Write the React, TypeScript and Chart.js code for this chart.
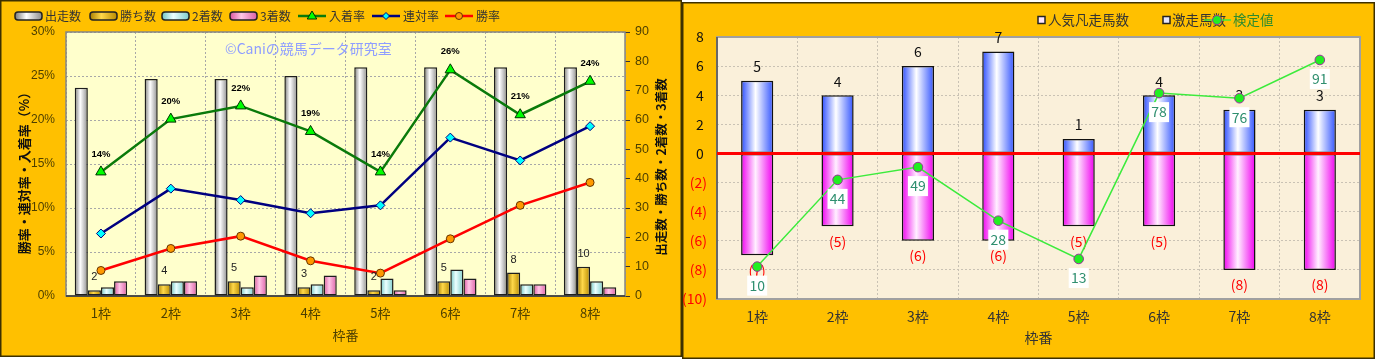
import React, { useEffect, useRef } from 'react';
import { Chart, registerables } from 'chart.js';

Chart.register(...registerables);

const JP = '"Noto Sans CJK JP", "Noto Sans", sans-serif';
const LS = '"Liberation Sans", Arial, sans-serif';
const ORANGE = '#FFC000';
const PANEL_BORDER = '#3D3000';
const AXIS_TEXT = '#4D3F00';

// ---------- left chart data ----------
const categories = ['1枠', '2枠', '3枠', '4枠', '5枠', '6枠', '7枠', '8枠'];
const starters = [71, 74, 74, 75, 78, 78, 78, 78];
const wins = [2, 4, 5, 3, 2, 5, 8, 10];
const seconds = [3, 5, 3, 4, 6, 9, 4, 5];
const thirds = [5, 5, 7, 7, 2, 6, 4, 3];
const placeRate = [14.1, 20.1, 21.6, 18.7, 14.1, 25.7, 20.6, 24.4];
const quinellaRate = [7.1, 12.2, 10.9, 9.4, 10.3, 18.0, 15.4, 19.3];
const winRate = [2.9, 5.4, 6.8, 4.0, 2.6, 6.5, 10.3, 12.9];
const rateAxis = { min: 0, max: 30, step: 5 };
const countAxis = { min: 0, max: 90, step: 10 };

// ---------- right chart data ----------
const favoriteFlops = [5, 4, 6, 7, 1, 4, 3, 3];
const longshotRuns = [-7, -5, -6, -6, -5, -5, -8, -8];
const testValues = [10, 44, 49, 28, 13, 78, 76, 91];
const diffAxis = { min: -10, max: 8, step: 2 };
const testAxis = { min: -2.7, max: 100 };

type Stops = [number, string][];
const starterStops: Stops = [[0, '#777777'], [0.42, '#ffffff'], [1, '#8c8c8c']];
const winStops: Stops = [[0, '#A87E00'], [0.42, '#FFD84A'], [1, '#B88A00']];
const secondStops: Stops = [[0, '#6FC4C4'], [0.42, '#ECFFFF'], [1, '#7CCCCC']];
const thirdStops: Stops = [[0, '#D9559F'], [0.42, '#FFC6E6'], [1, '#DD5FA6']];
const flopStops: Stops = [[0, '#2A4DFF'], [0.45, '#FFFFFF'], [1, '#3355FF']];
const runStops: Stops = [[0, '#F000F0'], [0.45, '#FFF0FF'], [1, '#F000F0']];

function hGrad(ctx: CanvasRenderingContext2D, x0: number, x1: number, stops: Stops) {
  const g = ctx.createLinearGradient(x0, 0, x1, 0);
  stops.forEach(([o, c]) => g.addColorStop(o, c));
  return g;
}

const barGradientPlugin = {
  id: 'barGradient',
  beforeDatasetsDraw(chart: any) {
    const ctx = chart.ctx;
    chart.data.datasets.forEach((ds: any, i: number) => {
      const stops = ds.gradientStops;
      if (!stops) return;
      const meta = chart.getDatasetMeta(i);
      meta.data.forEach((el: any) => {
        const p = el.getProps(['x', 'width'], true);
        if (!isFinite(p.x) || !isFinite(p.width)) return;
        el.options = Object.assign({}, el.options, {
          backgroundColor: hGrad(ctx, p.x - p.width / 2, p.x + p.width / 2, stops),
        });
      });
    });
  },
};

function roundRect(ctx: CanvasRenderingContext2D, x: number, y: number, w: number, h: number, r: number) {
  ctx.beginPath();
  ctx.moveTo(x + r, y);
  ctx.lineTo(x + w - r, y);
  ctx.arcTo(x + w, y, x + w, y + r, r);
  ctx.lineTo(x + w, y + h - r);
  ctx.arcTo(x + w, y + h, x + w - r, y + h, r);
  ctx.lineTo(x + r, y + h);
  ctx.arcTo(x, y + h, x, y + h - r, r);
  ctx.lineTo(x, y + r);
  ctx.arcTo(x, y, x + r, y, r);
  ctx.closePath();
}

function drawMarker(ctx: CanvasRenderingContext2D, style: string, x: number, y: number, r: number, fill: string, stroke: string) {
  ctx.save();
  ctx.fillStyle = fill;
  ctx.strokeStyle = stroke;
  ctx.lineWidth = 1;
  ctx.beginPath();
  if (style === 'triangle') {
    ctx.moveTo(x, y - r);
    ctx.lineTo(x + r * 0.95, y + r * 0.6);
    ctx.lineTo(x - r * 0.95, y + r * 0.6);
    ctx.closePath();
  } else if (style === 'rectRot') {
    ctx.moveTo(x, y - r);
    ctx.lineTo(x + r, y);
    ctx.lineTo(x, y + r);
    ctx.lineTo(x - r, y);
    ctx.closePath();
  } else {
    ctx.arc(x, y, r, 0, Math.PI * 2);
  }
  ctx.fill();
  ctx.stroke();
  ctx.restore();
}

// ---------- left chart ----------
const leftLegend = [
  { kind: 'box', label: '出走数', x: 15, stops: starterStops },
  { kind: 'box', label: '勝ち数', x: 90, stops: winStops },
  { kind: 'box', label: '2着数', x: 162, stops: secondStops },
  { kind: 'box', label: '3着数', x: 230, stops: thirdStops },
  { kind: 'line', label: '入着率', x: 298, color: '#0A7A0A', marker: 'triangle', fill: '#00FF00', stroke: '#003300', r: 5 },
  { kind: 'line', label: '連対率', x: 372, color: '#000080', marker: 'rectRot', fill: '#00FFFF', stroke: '#000080', r: 3.5 },
  { kind: 'line', label: '勝率', x: 445, color: '#FF0000', marker: 'circle', fill: '#FF9900', stroke: '#663300', r: 3.5 },
];

const leftDecor = {
  id: 'leftDecor',
  beforeDraw(chart: any) {
    const { ctx, chartArea: a } = chart;
    ctx.save();
    ctx.fillStyle = ORANGE;
    ctx.fillRect(0, 0, 682, 357);
    ctx.strokeStyle = PANEL_BORDER;
    ctx.lineWidth = 1.5;
    ctx.strokeRect(0.75, 0.75, 680.5, 355.5);
    ctx.fillStyle = '#FFFFCC';
    ctx.fillRect(a.left, a.top, a.right - a.left, a.bottom - a.top);
    ctx.restore();
  },
  beforeDatasetsDraw(chart: any) {
    const { ctx, chartArea: a } = chart;
    ctx.save();
    ctx.strokeStyle = '#858585';
    ctx.lineWidth = 1.5;
    ctx.strokeRect(a.left, a.top, a.right - a.left, a.bottom - a.top);
    ctx.strokeStyle = '#333';
    ctx.beginPath();
    ctx.moveTo(a.left, a.bottom);
    ctx.lineTo(a.right, a.bottom);
    ctx.stroke();
    ctx.fillStyle = '#8F9EFF';
    ctx.font = `14px ${JP}`;
    ctx.textAlign = 'left';
    ctx.textBaseline = 'middle';
    ctx.fillText('©Caniの競馬データ研究室', 225, 49);
    ctx.restore();
  },
  afterDatasetsDraw(chart: any) {
    const ctx = chart.ctx;
    ctx.save();
    ctx.textAlign = 'center';
    ctx.textBaseline = 'middle';
    // 勝ち数 labels
    const winMeta = chart.getDatasetMeta(1);
    ctx.font = `11px ${LS}`;
    ctx.fillStyle = '#222';
    winMeta.data.forEach((el: any, i: number) => {
      ctx.fillText(String(wins[i]), el.x, el.y - 13);
    });
    // 入着率 labels
    const placeMeta = chart.getDatasetMeta(4);
    ctx.font = `bold 9.5px ${LS}`;
    ctx.fillStyle = '#000';
    placeMeta.data.forEach((el: any, i: number) => {
      ctx.fillText(Math.round(placeRate[i]) + '%', el.x, el.y - 18);
    });
    ctx.restore();
  },
  afterDraw(chart: any) {
    const { ctx, chartArea: a } = chart;
    ctx.save();
    // legend
    ctx.font = `12px ${JP}`;
    ctx.textBaseline = 'middle';
    ctx.textAlign = 'left';
    const ly = 16;
    leftLegend.forEach((it: any) => {
      if (it.kind === 'box') {
        roundRect(ctx, it.x, ly - 4, 27, 8, 3);
        ctx.fillStyle = hGrad(ctx, it.x, it.x + 27, it.stops);
        ctx.fill();
        ctx.strokeStyle = '#222';
        ctx.lineWidth = 1.5;
        ctx.stroke();
        ctx.fillStyle = '#333';
        ctx.fillText(it.label, it.x + 30, ly);
      } else {
        ctx.strokeStyle = it.color;
        ctx.lineWidth = 2.5;
        ctx.beginPath();
        ctx.moveTo(it.x, ly);
        ctx.lineTo(it.x + 28, ly);
        ctx.stroke();
        drawMarker(ctx, it.marker, it.x + 14, ly, it.r, it.fill, it.stroke);
        ctx.fillStyle = '#333';
        ctx.fillText(it.label, it.x + 31, ly);
      }
    });
    // axis titles
    ctx.fillStyle = '#111';
    ctx.font = `bold 13px ${JP}`;
    ctx.textAlign = 'center';
    ctx.save();
    ctx.translate(24, 170);
    ctx.rotate(-Math.PI / 2);
    ctx.fillText('勝率・連対率・入着率（%）', 0, 0);
    ctx.restore();
    ctx.save();
    ctx.font = `bold 12.5px ${JP}`;
    ctx.translate(661, 167);
    ctx.rotate(-Math.PI / 2);
    ctx.fillText('出走数・勝ち数・2着数・3着数', 0, 0);
    ctx.restore();
    ctx.font = `13px ${JP}`;
    ctx.fillStyle = AXIS_TEXT;
    ctx.fillText('枠番', (a.left + a.right) / 2, 335);
    ctx.restore();
  },
};

function barSet(label: string, data: number[], stops: Stops) {
  return {
    type: 'bar',
    label,
    data,
    yAxisID: 'y1',
    gradientStops: stops,
    backgroundColor: () => stops[1][1],
    borderColor: '#1E1E1E',
    borderWidth: 1.5,
    borderSkipped: false,
    categoryPercentage: 0.75,
    barPercentage: 1.0,
    order: 2,
  };
}

function leftConfig(): any {
  return {
    type: 'bar',
    data: {
      labels: categories,
      datasets: [
        barSet('出走数', starters, starterStops),
        barSet('勝ち数', wins, winStops),
        barSet('2着数', seconds, secondStops),
        barSet('3着数', thirds, thirdStops),
        {
          type: 'line', label: '入着率', data: placeRate, yAxisID: 'y', order: 1,
          borderColor: '#0A7A0A', borderWidth: 2.5, pointStyle: 'triangle', pointRadius: 6,
          pointBackgroundColor: '#00FF00', pointBorderColor: '#003300', pointBorderWidth: 1,
        },
        {
          type: 'line', label: '連対率', data: quinellaRate, yAxisID: 'y', order: 1,
          borderColor: '#000080', borderWidth: 2.5, pointStyle: 'rectRot', pointRadius: 4.5,
          pointBackgroundColor: '#00FFFF', pointBorderColor: '#000080', pointBorderWidth: 1,
        },
        {
          type: 'line', label: '勝率', data: winRate, yAxisID: 'y', order: 1,
          borderColor: '#FF0000', borderWidth: 2.5, pointStyle: 'circle', pointRadius: 4,
          pointBackgroundColor: '#FF9900', pointBorderColor: '#663300', pointBorderWidth: 1,
        },
      ],
    },
    options: {
      responsive: false,
      animation: false,
      devicePixelRatio: 1,
      events: [],
      layout: { padding: { top: 32, left: 0, right: 0, bottom: 0 } },
      plugins: { legend: { display: false }, tooltip: { enabled: false }, title: { display: false } },
      scales: {
        x: {
          offset: true,
          grid: { offset: true, color: '#A8A8A8', lineWidth: 1, drawTicks: false },
          border: { display: false, dash: [2, 2] },
          ticks: { color: AXIS_TEXT, font: { family: JP, size: 13 }, padding: 9 },
          afterFit: (s: any) => { s.height = 64; },
        },
        y: {
          position: 'left',
          min: rateAxis.min, max: rateAxis.max,
          grid: { color: '#A8A8A8', lineWidth: 1, drawTicks: false },
          border: { display: false, dash: [2, 2] },
          ticks: {
            stepSize: rateAxis.step, color: AXIS_TEXT, padding: 11,
            font: { family: LS, size: 12 }, callback: (v: any) => v + '%',
          },
          afterFit: (s: any) => { s.width = 66; },
        },
        y1: {
          position: 'right',
          min: countAxis.min, max: countAxis.max,
          grid: { drawOnChartArea: false, drawTicks: true, tickLength: 5, tickColor: '#333', tickWidth: 1 },
          border: { display: false },
          ticks: { stepSize: countAxis.step, color: AXIS_TEXT, padding: 5, font: { family: LS, size: 12.5 } },
          afterFit: (s: any) => { s.width = 57; },
        },
      },
    },
    plugins: [barGradientPlugin, leftDecor],
  };
}

// ---------- right chart ----------
const rightDecor = {
  id: 'rightDecor',
  beforeDraw(chart: any) {
    const { ctx, chartArea: a } = chart;
    ctx.save();
    ctx.fillStyle = ORANGE;
    ctx.fillRect(0, 2, 693, 357);
    ctx.strokeStyle = PANEL_BORDER;
    ctx.lineWidth = 1.5;
    ctx.strokeRect(0.75, 2.75, 691.5, 355.5);
    ctx.fillStyle = '#FAF0DA';
    ctx.fillRect(a.left, a.top, a.right - a.left, a.bottom - a.top);
    ctx.restore();
  },
  beforeDatasetsDraw(chart: any) {
    const { ctx, chartArea: a } = chart;
    ctx.save();
    ctx.strokeStyle = '#A0A0A0';
    ctx.lineWidth = 2;
    ctx.strokeRect(a.left, a.top, a.right - a.left, a.bottom - a.top);
    ctx.strokeStyle = '#555';
    ctx.lineWidth = 1.5;
    ctx.beginPath();
    ctx.moveTo(a.left, a.top);
    ctx.lineTo(a.left, a.bottom);
    ctx.stroke();
    ctx.restore();
  },
  beforeDatasetDraw(chart: any, args: any) {
    if (args.index !== 2) return;
    const { ctx, chartArea: a } = chart;
    const y0 = chart.scales.y.getPixelForValue(0);
    ctx.save();
    ctx.strokeStyle = '#FF0000';
    ctx.lineWidth = 3;
    ctx.beginPath();
    ctx.moveTo(a.left, y0);
    ctx.lineTo(a.right, y0);
    ctx.stroke();
    ctx.textAlign = 'center';
    ctx.textBaseline = 'middle';
    ctx.font = `14px ${JP}`;
    ctx.fillStyle = '#111';
    chart.getDatasetMeta(0).data.forEach((el: any, i: number) => {
      ctx.fillText(String(favoriteFlops[i]), el.x, el.y - 14);
    });
    ctx.fillStyle = '#FF0000';
    chart.getDatasetMeta(1).data.forEach((el: any, i: number) => {
      ctx.fillText(`(${-longshotRuns[i]})`, el.x, el.y + 15);
    });
    ctx.restore();
  },
  afterDatasetsDraw(chart: any) {
    const ctx = chart.ctx;
    ctx.save();
    ctx.textAlign = 'center';
    ctx.textBaseline = 'middle';
    ctx.font = `14px ${JP}`;
    chart.getDatasetMeta(2).data.forEach((el: any, i: number) => {
      const cy = el.y + 19;
      ctx.fillStyle = '#FFFFFF';
      ctx.fillRect(el.x - 10, cy - 10, 20, 20);
      ctx.fillStyle = '#2F8F6F';
      ctx.fillText(String(testValues[i]), el.x, cy);
    });
    ctx.restore();
  },
  afterDraw(chart: any) {
    const { ctx, chartArea: a } = chart;
    ctx.save();
    const ly = 20;
    ctx.font = `13.5px ${JP}`;
    ctx.textBaseline = 'middle';
    ctx.textAlign = 'left';
    // item 1
    ctx.fillStyle = '#FFE6FF';
    ctx.fillRect(356, ly - 3.5, 7, 7);
    ctx.strokeStyle = '#222';
    ctx.lineWidth = 1.5;
    ctx.strokeRect(356, ly - 3.5, 7, 7);
    ctx.fillStyle = '#333';
    ctx.fillText('人気凡走馬数', 366, ly);
    // item 2
    ctx.fillStyle = '#E6E6FF';
    ctx.fillRect(481, ly - 3.5, 7, 7);
    ctx.strokeRect(481, ly - 3.5, 7, 7);
    ctx.fillStyle = '#333';
    ctx.fillText('激走馬数', 490, ly);
    // item 3
    ctx.strokeStyle = '#3CEB3C';
    ctx.lineWidth = 1.5;
    ctx.beginPath();
    ctx.moveTo(522, ly);
    ctx.lineTo(549, ly);
    ctx.stroke();
    drawMarker(ctx, 'circle', 535, ly, 4.5, '#22EE22', '#993399');
    ctx.fillStyle = '#2E8B2E';
    ctx.fillText('検定値', 551, ly);
    // x title
    ctx.textAlign = 'center';
    ctx.font = `14px ${JP}`;
    ctx.fillStyle = '#333';
    ctx.fillText('枠番', (a.left + a.right) / 2, 338);
    ctx.restore();
  },
};

function rightConfig(): any {
  return {
    type: 'bar',
    data: {
      labels: categories,
      datasets: [
        {
          type: 'bar', label: '人気凡走馬数', data: favoriteFlops, yAxisID: 'y', stack: 's',
          gradientStops: flopStops, backgroundColor: () => '#99AAFF',
          borderColor: '#111', borderWidth: 1.5, borderSkipped: false,
          categoryPercentage: 1, barPercentage: 0.4, order: 2,
        },
        {
          type: 'bar', label: '激走馬数', data: longshotRuns, yAxisID: 'y', stack: 's',
          gradientStops: runStops, backgroundColor: () => '#FF99FF',
          borderColor: '#111', borderWidth: 1.5, borderSkipped: false,
          categoryPercentage: 1, barPercentage: 0.4, order: 2,
        },
        {
          type: 'line', label: '検定値', data: testValues, yAxisID: 'y2', order: 1,
          borderColor: '#3CEB3C', borderWidth: 1.5, pointStyle: 'circle', pointRadius: 4.8,
          pointBackgroundColor: '#22EE22', pointBorderColor: '#993399', pointBorderWidth: 1,
        },
      ],
    },
    options: {
      responsive: false,
      animation: false,
      devicePixelRatio: 1,
      events: [],
      layout: { padding: { top: 37, left: 0, right: 16, bottom: 0 } },
      plugins: { legend: { display: false }, tooltip: { enabled: false }, title: { display: false } },
      scales: {
        x: {
          stacked: true,
          offset: true,
          grid: { offset: true, color: '#C9C2B4', lineWidth: 1, drawTicks: false },
          border: { display: false, dash: [2, 2] },
          ticks: { color: '#333', font: { family: JP, size: 14 }, padding: 9 },
          afterFit: (s: any) => { s.height = 61; },
        },
        y: {
          stacked: true,
          min: diffAxis.min, max: diffAxis.max,
          grid: { color: '#C9C2B4', lineWidth: 1, drawTicks: false },
          border: { display: false, dash: [2, 2] },
          ticks: {
            stepSize: diffAxis.step, padding: 10,
            font: { family: JP, size: 14 },
            color: (c: any) => (c.tick && c.tick.value < 0 ? '#FF0000' : '#111'),
            callback: (v: any) => (v < 0 ? `(${-v})` : `${v} `),
          },
          afterFit: (s: any) => { s.width = 35; },
        },
        y2: { display: false, min: testAxis.min, max: testAxis.max },
      },
    },
    plugins: [barGradientPlugin, rightDecor],
  };
}

export default function App() {
  const leftRef = useRef<HTMLCanvasElement>(null);
  const rightRef = useRef<HTMLCanvasElement>(null);
  useEffect(() => {
    document.body.style.margin = '0';
    const l = new Chart(leftRef.current as HTMLCanvasElement, leftConfig());
    const r = new Chart(rightRef.current as HTMLCanvasElement, rightConfig());
    return () => {
      l.destroy();
      r.destroy();
    };
  }, []);
  return (
    <div style={{ position: 'relative', width: 1376, height: 360, background: '#ffffff' }}>
      <canvas ref={leftRef} width={682} height={360}
        style={{ position: 'absolute', left: 0, top: 0, width: 682, height: 360 }} />
      <canvas ref={rightRef} width={694} height={360}
        style={{ position: 'absolute', left: 682, top: 0, width: 694, height: 360 }} />
    </div>
  );
}
